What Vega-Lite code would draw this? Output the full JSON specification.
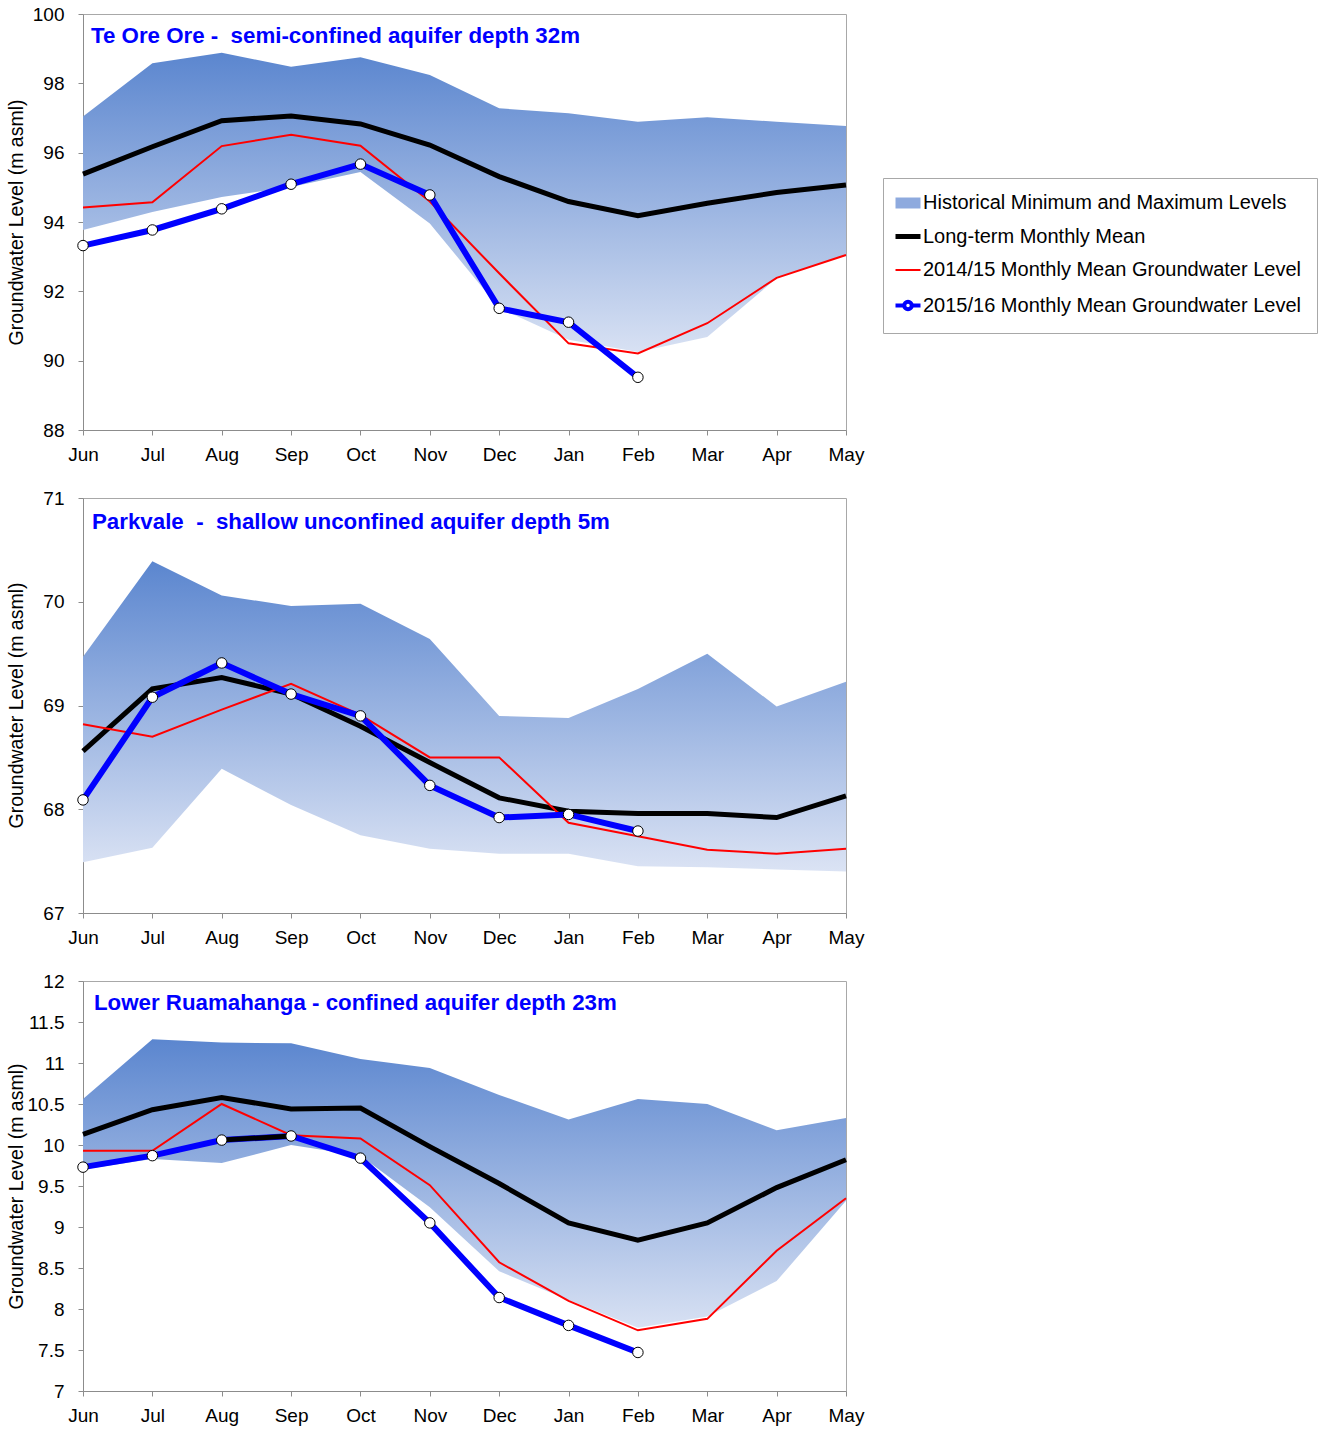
{
  "$schema": "https://vega.github.io/schema/vega-lite/v6.json",
  "background": "white",
  "padding": {"left": 5, "top": 4, "right": 0, "bottom": 0},
  "autosize": {"type": "pad"},
  "spacing": 68,
  "bounds": "flush",
  "config": {
    "font": "Liberation Sans",
    "view": {"stroke": "#a8a8a8", "strokeWidth": 1},
    "axis": {"grid": false, "domainColor": "#8c8c8c", "tickColor": "#8c8c8c", "labelFontSize": 19, "labelColor": "#000000", "titleFontSize": 19.5, "titleFontWeight": "normal", "titleColor": "#000000", "tickSize": 5, "labelFont": "Liberation Sans", "titleFont": "Liberation Sans"},
    "axisX": {"labelAngle": 0, "labelPadding": 10, "title": null},
    "axisY": {"labelPadding": 14}
  },
  "datasets": {
    "band": [
      {"site": "Te Ore Ore", "month": "Jun", "max": 97.04, "min": 93.77},
      {"site": "Te Ore Ore", "month": "Jul", "max": 98.58, "min": 94.29},
      {"site": "Te Ore Ore", "month": "Aug", "max": 98.88, "min": 94.72},
      {"site": "Te Ore Ore", "month": "Sep", "max": 98.48, "min": 95.01},
      {"site": "Te Ore Ore", "month": "Oct", "max": 98.75, "min": 95.44},
      {"site": "Te Ore Ore", "month": "Nov", "max": 98.24, "min": 93.96},
      {"site": "Te Ore Ore", "month": "Dec", "max": 97.28, "min": 91.52},
      {"site": "Te Ore Ore", "month": "Jan", "max": 97.14, "min": 90.6},
      {"site": "Te Ore Ore", "month": "Feb", "max": 96.89, "min": 90.25},
      {"site": "Te Ore Ore", "month": "Mar", "max": 97.02, "min": 90.68},
      {"site": "Te Ore Ore", "month": "Apr", "max": 96.89, "min": 92.38},
      {"site": "Te Ore Ore", "month": "May", "max": 96.77, "min": 93.05},
      {"site": "Parkvale", "month": "Jun", "max": 69.47, "min": 67.49},
      {"site": "Parkvale", "month": "Jul", "max": 70.39, "min": 67.63},
      {"site": "Parkvale", "month": "Aug", "max": 70.06, "min": 68.39},
      {"site": "Parkvale", "month": "Sep", "max": 69.96, "min": 68.04},
      {"site": "Parkvale", "month": "Oct", "max": 69.98, "min": 67.75},
      {"site": "Parkvale", "month": "Nov", "max": 69.64, "min": 67.62},
      {"site": "Parkvale", "month": "Dec", "max": 68.9, "min": 67.57},
      {"site": "Parkvale", "month": "Jan", "max": 68.88, "min": 67.57},
      {"site": "Parkvale", "month": "Feb", "max": 69.16, "min": 67.45},
      {"site": "Parkvale", "month": "Mar", "max": 69.5, "min": 67.44},
      {"site": "Parkvale", "month": "Apr", "max": 68.99, "min": 67.42},
      {"site": "Parkvale", "month": "May", "max": 69.23, "min": 67.4},
      {"site": "Lower Ruamahanga", "month": "Jun", "max": 10.56, "min": 9.7},
      {"site": "Lower Ruamahanga", "month": "Jul", "max": 11.29, "min": 9.83},
      {"site": "Lower Ruamahanga", "month": "Aug", "max": 11.25, "min": 9.78},
      {"site": "Lower Ruamahanga", "month": "Sep", "max": 11.24, "min": 10.0},
      {"site": "Lower Ruamahanga", "month": "Oct", "max": 11.05, "min": 9.87},
      {"site": "Lower Ruamahanga", "month": "Nov", "max": 10.94, "min": 9.24},
      {"site": "Lower Ruamahanga", "month": "Dec", "max": 10.61, "min": 8.46},
      {"site": "Lower Ruamahanga", "month": "Jan", "max": 10.31, "min": 8.11},
      {"site": "Lower Ruamahanga", "month": "Feb", "max": 10.56, "min": 7.77},
      {"site": "Lower Ruamahanga", "month": "Mar", "max": 10.5, "min": 7.91},
      {"site": "Lower Ruamahanga", "month": "Apr", "max": 10.18, "min": 8.34},
      {"site": "Lower Ruamahanga", "month": "May", "max": 10.33, "min": 9.32}
    ],
    "lines": [
      {"site": "Te Ore Ore", "series": "Long-term Monthly Mean", "month": "Jun", "value": 95.38},
      {"site": "Te Ore Ore", "series": "Long-term Monthly Mean", "month": "Jul", "value": 96.17},
      {"site": "Te Ore Ore", "series": "Long-term Monthly Mean", "month": "Aug", "value": 96.92},
      {"site": "Te Ore Ore", "series": "Long-term Monthly Mean", "month": "Sep", "value": 97.06},
      {"site": "Te Ore Ore", "series": "Long-term Monthly Mean", "month": "Oct", "value": 96.83},
      {"site": "Te Ore Ore", "series": "Long-term Monthly Mean", "month": "Nov", "value": 96.22},
      {"site": "Te Ore Ore", "series": "Long-term Monthly Mean", "month": "Dec", "value": 95.31},
      {"site": "Te Ore Ore", "series": "Long-term Monthly Mean", "month": "Jan", "value": 94.59},
      {"site": "Te Ore Ore", "series": "Long-term Monthly Mean", "month": "Feb", "value": 94.18},
      {"site": "Te Ore Ore", "series": "Long-term Monthly Mean", "month": "Mar", "value": 94.54},
      {"site": "Te Ore Ore", "series": "Long-term Monthly Mean", "month": "Apr", "value": 94.85},
      {"site": "Te Ore Ore", "series": "Long-term Monthly Mean", "month": "May", "value": 95.07},
      {"site": "Te Ore Ore", "series": "2014/15 Monthly Mean Groundwater Level", "month": "Jun", "value": 94.42},
      {"site": "Te Ore Ore", "series": "2014/15 Monthly Mean Groundwater Level", "month": "Jul", "value": 94.57},
      {"site": "Te Ore Ore", "series": "2014/15 Monthly Mean Groundwater Level", "month": "Aug", "value": 96.19},
      {"site": "Te Ore Ore", "series": "2014/15 Monthly Mean Groundwater Level", "month": "Sep", "value": 96.52},
      {"site": "Te Ore Ore", "series": "2014/15 Monthly Mean Groundwater Level", "month": "Oct", "value": 96.2},
      {"site": "Te Ore Ore", "series": "2014/15 Monthly Mean Groundwater Level", "month": "Nov", "value": 94.59},
      {"site": "Te Ore Ore", "series": "2014/15 Monthly Mean Groundwater Level", "month": "Dec", "value": 92.52},
      {"site": "Te Ore Ore", "series": "2014/15 Monthly Mean Groundwater Level", "month": "Jan", "value": 90.5},
      {"site": "Te Ore Ore", "series": "2014/15 Monthly Mean Groundwater Level", "month": "Feb", "value": 90.21},
      {"site": "Te Ore Ore", "series": "2014/15 Monthly Mean Groundwater Level", "month": "Mar", "value": 91.08},
      {"site": "Te Ore Ore", "series": "2014/15 Monthly Mean Groundwater Level", "month": "Apr", "value": 92.39},
      {"site": "Te Ore Ore", "series": "2014/15 Monthly Mean Groundwater Level", "month": "May", "value": 93.05},
      {"site": "Te Ore Ore", "series": "2015/16 Monthly Mean Groundwater Level", "month": "Jun", "value": 93.32},
      {"site": "Te Ore Ore", "series": "2015/16 Monthly Mean Groundwater Level", "month": "Jul", "value": 93.77},
      {"site": "Te Ore Ore", "series": "2015/16 Monthly Mean Groundwater Level", "month": "Aug", "value": 94.38},
      {"site": "Te Ore Ore", "series": "2015/16 Monthly Mean Groundwater Level", "month": "Sep", "value": 95.09},
      {"site": "Te Ore Ore", "series": "2015/16 Monthly Mean Groundwater Level", "month": "Oct", "value": 95.67},
      {"site": "Te Ore Ore", "series": "2015/16 Monthly Mean Groundwater Level", "month": "Nov", "value": 94.78},
      {"site": "Te Ore Ore", "series": "2015/16 Monthly Mean Groundwater Level", "month": "Dec", "value": 91.51},
      {"site": "Te Ore Ore", "series": "2015/16 Monthly Mean Groundwater Level", "month": "Jan", "value": 91.11},
      {"site": "Te Ore Ore", "series": "2015/16 Monthly Mean Groundwater Level", "month": "Feb", "value": 89.52},
      {"site": "Parkvale", "series": "Long-term Monthly Mean", "month": "Jun", "value": 68.56},
      {"site": "Parkvale", "series": "Long-term Monthly Mean", "month": "Jul", "value": 69.16},
      {"site": "Parkvale", "series": "Long-term Monthly Mean", "month": "Aug", "value": 69.27},
      {"site": "Parkvale", "series": "Long-term Monthly Mean", "month": "Sep", "value": 69.11},
      {"site": "Parkvale", "series": "Long-term Monthly Mean", "month": "Oct", "value": 68.8},
      {"site": "Parkvale", "series": "Long-term Monthly Mean", "month": "Nov", "value": 68.45},
      {"site": "Parkvale", "series": "Long-term Monthly Mean", "month": "Dec", "value": 68.11},
      {"site": "Parkvale", "series": "Long-term Monthly Mean", "month": "Jan", "value": 67.98},
      {"site": "Parkvale", "series": "Long-term Monthly Mean", "month": "Feb", "value": 67.96},
      {"site": "Parkvale", "series": "Long-term Monthly Mean", "month": "Mar", "value": 67.96},
      {"site": "Parkvale", "series": "Long-term Monthly Mean", "month": "Apr", "value": 67.92},
      {"site": "Parkvale", "series": "Long-term Monthly Mean", "month": "May", "value": 68.13},
      {"site": "Parkvale", "series": "2014/15 Monthly Mean Groundwater Level", "month": "Jun", "value": 68.82},
      {"site": "Parkvale", "series": "2014/15 Monthly Mean Groundwater Level", "month": "Jul", "value": 68.7},
      {"site": "Parkvale", "series": "2014/15 Monthly Mean Groundwater Level", "month": "Aug", "value": 68.96},
      {"site": "Parkvale", "series": "2014/15 Monthly Mean Groundwater Level", "month": "Sep", "value": 69.21},
      {"site": "Parkvale", "series": "2014/15 Monthly Mean Groundwater Level", "month": "Oct", "value": 68.91},
      {"site": "Parkvale", "series": "2014/15 Monthly Mean Groundwater Level", "month": "Nov", "value": 68.5},
      {"site": "Parkvale", "series": "2014/15 Monthly Mean Groundwater Level", "month": "Dec", "value": 68.5},
      {"site": "Parkvale", "series": "2014/15 Monthly Mean Groundwater Level", "month": "Jan", "value": 67.87},
      {"site": "Parkvale", "series": "2014/15 Monthly Mean Groundwater Level", "month": "Feb", "value": 67.74},
      {"site": "Parkvale", "series": "2014/15 Monthly Mean Groundwater Level", "month": "Mar", "value": 67.61},
      {"site": "Parkvale", "series": "2014/15 Monthly Mean Groundwater Level", "month": "Apr", "value": 67.57},
      {"site": "Parkvale", "series": "2014/15 Monthly Mean Groundwater Level", "month": "May", "value": 67.62},
      {"site": "Parkvale", "series": "2015/16 Monthly Mean Groundwater Level", "month": "Jun", "value": 68.09},
      {"site": "Parkvale", "series": "2015/16 Monthly Mean Groundwater Level", "month": "Jul", "value": 69.08},
      {"site": "Parkvale", "series": "2015/16 Monthly Mean Groundwater Level", "month": "Aug", "value": 69.41},
      {"site": "Parkvale", "series": "2015/16 Monthly Mean Groundwater Level", "month": "Sep", "value": 69.11},
      {"site": "Parkvale", "series": "2015/16 Monthly Mean Groundwater Level", "month": "Oct", "value": 68.9},
      {"site": "Parkvale", "series": "2015/16 Monthly Mean Groundwater Level", "month": "Nov", "value": 68.23},
      {"site": "Parkvale", "series": "2015/16 Monthly Mean Groundwater Level", "month": "Dec", "value": 67.92},
      {"site": "Parkvale", "series": "2015/16 Monthly Mean Groundwater Level", "month": "Jan", "value": 67.95},
      {"site": "Parkvale", "series": "2015/16 Monthly Mean Groundwater Level", "month": "Feb", "value": 67.79},
      {"site": "Lower Ruamahanga", "series": "Long-term Monthly Mean", "month": "Jun", "value": 10.13},
      {"site": "Lower Ruamahanga", "series": "Long-term Monthly Mean", "month": "Jul", "value": 10.43},
      {"site": "Lower Ruamahanga", "series": "Long-term Monthly Mean", "month": "Aug", "value": 10.58},
      {"site": "Lower Ruamahanga", "series": "Long-term Monthly Mean", "month": "Sep", "value": 10.44},
      {"site": "Lower Ruamahanga", "series": "Long-term Monthly Mean", "month": "Oct", "value": 10.45},
      {"site": "Lower Ruamahanga", "series": "Long-term Monthly Mean", "month": "Nov", "value": 9.98},
      {"site": "Lower Ruamahanga", "series": "Long-term Monthly Mean", "month": "Dec", "value": 9.53},
      {"site": "Lower Ruamahanga", "series": "Long-term Monthly Mean", "month": "Jan", "value": 9.05},
      {"site": "Lower Ruamahanga", "series": "Long-term Monthly Mean", "month": "Feb", "value": 8.84},
      {"site": "Lower Ruamahanga", "series": "Long-term Monthly Mean", "month": "Mar", "value": 9.05},
      {"site": "Lower Ruamahanga", "series": "Long-term Monthly Mean", "month": "Apr", "value": 9.48},
      {"site": "Lower Ruamahanga", "series": "Long-term Monthly Mean", "month": "May", "value": 9.82},
      {"site": "Lower Ruamahanga", "series": "2014/15 Monthly Mean Groundwater Level", "month": "Jun", "value": 9.93},
      {"site": "Lower Ruamahanga", "series": "2014/15 Monthly Mean Groundwater Level", "month": "Jul", "value": 9.93},
      {"site": "Lower Ruamahanga", "series": "2014/15 Monthly Mean Groundwater Level", "month": "Aug", "value": 10.5},
      {"site": "Lower Ruamahanga", "series": "2014/15 Monthly Mean Groundwater Level", "month": "Sep", "value": 10.12},
      {"site": "Lower Ruamahanga", "series": "2014/15 Monthly Mean Groundwater Level", "month": "Oct", "value": 10.08},
      {"site": "Lower Ruamahanga", "series": "2014/15 Monthly Mean Groundwater Level", "month": "Nov", "value": 9.51},
      {"site": "Lower Ruamahanga", "series": "2014/15 Monthly Mean Groundwater Level", "month": "Dec", "value": 8.57},
      {"site": "Lower Ruamahanga", "series": "2014/15 Monthly Mean Groundwater Level", "month": "Jan", "value": 8.1},
      {"site": "Lower Ruamahanga", "series": "2014/15 Monthly Mean Groundwater Level", "month": "Feb", "value": 7.74},
      {"site": "Lower Ruamahanga", "series": "2014/15 Monthly Mean Groundwater Level", "month": "Mar", "value": 7.88},
      {"site": "Lower Ruamahanga", "series": "2014/15 Monthly Mean Groundwater Level", "month": "Apr", "value": 8.71},
      {"site": "Lower Ruamahanga", "series": "2014/15 Monthly Mean Groundwater Level", "month": "May", "value": 9.35},
      {"site": "Lower Ruamahanga", "series": "2015/16 Monthly Mean Groundwater Level", "month": "Jun", "value": 9.73},
      {"site": "Lower Ruamahanga", "series": "2015/16 Monthly Mean Groundwater Level", "month": "Jul", "value": 9.87},
      {"site": "Lower Ruamahanga", "series": "2015/16 Monthly Mean Groundwater Level", "month": "Aug", "value": 10.06},
      {"site": "Lower Ruamahanga", "series": "2015/16 Monthly Mean Groundwater Level", "month": "Sep", "value": 10.11},
      {"site": "Lower Ruamahanga", "series": "2015/16 Monthly Mean Groundwater Level", "month": "Oct", "value": 9.84},
      {"site": "Lower Ruamahanga", "series": "2015/16 Monthly Mean Groundwater Level", "month": "Nov", "value": 9.05},
      {"site": "Lower Ruamahanga", "series": "2015/16 Monthly Mean Groundwater Level", "month": "Dec", "value": 8.14},
      {"site": "Lower Ruamahanga", "series": "2015/16 Monthly Mean Groundwater Level", "month": "Jan", "value": 7.8},
      {"site": "Lower Ruamahanga", "series": "2015/16 Monthly Mean Groundwater Level", "month": "Feb", "value": 7.47}
    ]
  },
  "vconcat": [
    {
      "width": 763, "height": 416,
      "title": {"text": "Te Ore Ore -\u00a0 semi-confined aquifer depth 32m", "anchor": "start", "frame": "group", "offset": -60, "dx": 8, "color": "#0000ff", "fontSize": 22.3, "fontWeight": "bold", "font": "Liberation Sans", "baseline": "alphabetic"},
      "layer": [
        {
          "data": {"name": "band"},
          "transform": [{"filter": "datum.site === 'Te Ore Ore'"}],
          "mark": {"type": "area", "fill": {"gradient": "linear", "x1": 0, "y1": 0, "x2": 0, "y2": 1, "stops": [{"offset": 0, "color": "#5b86cf"}, {"offset": 1, "color": "#d8e1f3"}]}},
          "encoding": {
            "x": {"field": "month", "type": "ordinal", "sort": ["Jun","Jul","Aug","Sep","Oct","Nov","Dec","Jan","Feb","Mar","Apr","May"], "scale": {"type": "point", "padding": 0, "domain": ["Jun","Jul","Aug","Sep","Oct","Nov","Dec","Jan","Feb","Mar","Apr","May"]}, "axis": {"title": null}},
            "y": {"field": "max", "type": "quantitative", "scale": {"domain": [88, 100], "nice": false, "zero": false}, "axis": {"title": "Groundwater Level (m asml)", "values": [88,90,92,94,96,98,100], "format": "d", "titleX": -57, "titleY": 208}},
            "y2": {"field": "min"}
          }
        },
        {
          "data": {"name": "lines"},
          "transform": [{"filter": "datum.site === 'Te Ore Ore' && datum.series === 'Long-term Monthly Mean'"}],
          "mark": {"type": "line", "strokeWidth": 5},
          "encoding": {
            "x": {"field": "month", "type": "ordinal", "sort": ["Jun","Jul","Aug","Sep","Oct","Nov","Dec","Jan","Feb","Mar","Apr","May"]},
            "y": {"field": "value", "type": "quantitative"},
            "color": {"field": "series", "type": "nominal", "scale": {"domain": ["Historical Minimum and Maximum Levels", "Long-term Monthly Mean", "2014/15 Monthly Mean Groundwater Level", "2015/16 Monthly Mean Groundwater Level"], "range": ["#8eaade", "#000000", "#ff0000", "#0000ff"]},
              "legend": {"orient": "none", "legendX": 800, "legendY": 164, "title": null, "strokeColor": "#a8a8a8", "fillColor": "white", "padding": 15, "labelFontSize": 20, "labelColor": "#000000", "labelFont": "Liberation Sans", "labelOffset": 5, "rowPadding": 13.5, "symbolSize": 625, "labelLimit": 600,
                "values": ["Historical Minimum and Maximum Levels", "Long-term Monthly Mean", "2014/15 Monthly Mean Groundwater Level", "2015/16 Monthly Mean Groundwater Level"],
                "encode": {"symbols": {"update": {
                  "shape": {"signal": "datum.value === 'Historical Minimum and Maximum Levels' ? 'M-1,-0.44H1V0.44H-1Z' : (datum.value === '2015/16 Monthly Mean Groundwater Level' ? 'M-1,0H-0.3M0.3,0H1M0.3,0A0.3,0.3 0 1 1 -0.3,0A0.3,0.3 0 1 1 0.3,0Z' : 'M-1,0H1')"},
                  "fill": {"signal": "datum.value === 'Historical Minimum and Maximum Levels' ? '#8eaade' : (datum.value === '2015/16 Monthly Mean Groundwater Level' ? '#ffffff' : 'transparent')"},
                  "stroke": {"signal": "datum.value === 'Historical Minimum and Maximum Levels' ? 'transparent' : (datum.value === 'Long-term Monthly Mean' ? '#000000' : (datum.value === '2014/15 Monthly Mean Groundwater Level' ? '#ff0000' : '#0000ff'))"},
                  "strokeWidth": {"signal": "datum.value === 'Long-term Monthly Mean' ? 5 : (datum.value === '2014/15 Monthly Mean Groundwater Level' ? 2 : (datum.value === '2015/16 Monthly Mean Groundwater Level' ? 4 : 0))"},
                  "opacity": {"value": 1}
                }}}
              }
            }
          }
        },
        {
          "data": {"name": "lines"},
          "transform": [{"filter": "datum.site === 'Te Ore Ore' && datum.series === '2014/15 Monthly Mean Groundwater Level'"}],
          "mark": {"type": "line", "strokeWidth": 2},
          "encoding": {
            "x": {"field": "month", "type": "ordinal", "sort": ["Jun","Jul","Aug","Sep","Oct","Nov","Dec","Jan","Feb","Mar","Apr","May"]},
            "y": {"field": "value", "type": "quantitative"},
            "color": {"field": "series", "type": "nominal"}
          }
        },
        {
          "data": {"name": "lines"},
          "transform": [{"filter": "datum.site === 'Te Ore Ore' && datum.series === '2015/16 Monthly Mean Groundwater Level'"}],
          "mark": {"type": "line", "strokeWidth": 6},
          "encoding": {
            "x": {"field": "month", "type": "ordinal", "sort": ["Jun","Jul","Aug","Sep","Oct","Nov","Dec","Jan","Feb","Mar","Apr","May"]},
            "y": {"field": "value", "type": "quantitative"},
            "color": {"field": "series", "type": "nominal"}
          }
        },
        {
          "data": {"name": "lines"},
          "transform": [{"filter": "datum.site === 'Te Ore Ore' && datum.series === '2015/16 Monthly Mean Groundwater Level'"}],
          "mark": {"type": "point", "shape": "circle", "filled": true, "fill": "#ffffff", "stroke": "#000000", "strokeWidth": 1, "size": 110, "opacity": 1},
          "encoding": {
            "x": {"field": "month", "type": "ordinal", "sort": ["Jun","Jul","Aug","Sep","Oct","Nov","Dec","Jan","Feb","Mar","Apr","May"]},
            "y": {"field": "value", "type": "quantitative"}
          }
        }
      ]
    },
    {
      "width": 763, "height": 415,
      "title": {"text": "Parkvale\u00a0 -\u00a0 shallow unconfined aquifer depth 5m", "anchor": "start", "frame": "group", "offset": -62, "dx": 9, "color": "#0000ff", "fontSize": 22.3, "fontWeight": "bold", "font": "Liberation Sans", "baseline": "alphabetic"},
      "layer": [
        {
          "data": {"name": "band"},
          "transform": [{"filter": "datum.site === 'Parkvale'"}],
          "mark": {"type": "area", "fill": {"gradient": "linear", "x1": 0, "y1": 0, "x2": 0, "y2": 1, "stops": [{"offset": 0, "color": "#5b86cf"}, {"offset": 1, "color": "#dbe3f4"}]}},
          "encoding": {
            "x": {"field": "month", "type": "ordinal", "sort": ["Jun","Jul","Aug","Sep","Oct","Nov","Dec","Jan","Feb","Mar","Apr","May"], "scale": {"type": "point", "padding": 0, "domain": ["Jun","Jul","Aug","Sep","Oct","Nov","Dec","Jan","Feb","Mar","Apr","May"]}, "axis": {"title": null}},
            "y": {"field": "max", "type": "quantitative", "scale": {"domain": [67, 71], "nice": false, "zero": false}, "axis": {"title": "Groundwater Level (m asml)", "values": [67,68,69,70,71], "format": "d", "titleX": -57, "titleY": 207}},
            "y2": {"field": "min"}
          }
        },
        {
          "data": {"name": "lines"},
          "transform": [{"filter": "datum.site === 'Parkvale' && datum.series === 'Long-term Monthly Mean'"}],
          "mark": {"type": "line", "strokeWidth": 5},
          "encoding": {
            "x": {"field": "month", "type": "ordinal", "sort": ["Jun","Jul","Aug","Sep","Oct","Nov","Dec","Jan","Feb","Mar","Apr","May"]},
            "y": {"field": "value", "type": "quantitative"},
            "color": {"field": "series", "type": "nominal"}
          }
        },
        {
          "data": {"name": "lines"},
          "transform": [{"filter": "datum.site === 'Parkvale' && datum.series === '2014/15 Monthly Mean Groundwater Level'"}],
          "mark": {"type": "line", "strokeWidth": 2},
          "encoding": {
            "x": {"field": "month", "type": "ordinal", "sort": ["Jun","Jul","Aug","Sep","Oct","Nov","Dec","Jan","Feb","Mar","Apr","May"]},
            "y": {"field": "value", "type": "quantitative"},
            "color": {"field": "series", "type": "nominal"}
          }
        },
        {
          "data": {"name": "lines"},
          "transform": [{"filter": "datum.site === 'Parkvale' && datum.series === '2015/16 Monthly Mean Groundwater Level'"}],
          "mark": {"type": "line", "strokeWidth": 6},
          "encoding": {
            "x": {"field": "month", "type": "ordinal", "sort": ["Jun","Jul","Aug","Sep","Oct","Nov","Dec","Jan","Feb","Mar","Apr","May"]},
            "y": {"field": "value", "type": "quantitative"},
            "color": {"field": "series", "type": "nominal"}
          }
        },
        {
          "data": {"name": "lines"},
          "transform": [{"filter": "datum.site === 'Parkvale' && datum.series === '2015/16 Monthly Mean Groundwater Level'"}],
          "mark": {"type": "point", "shape": "circle", "filled": true, "fill": "#ffffff", "stroke": "#000000", "strokeWidth": 1, "size": 110, "opacity": 1},
          "encoding": {
            "x": {"field": "month", "type": "ordinal", "sort": ["Jun","Jul","Aug","Sep","Oct","Nov","Dec","Jan","Feb","Mar","Apr","May"]},
            "y": {"field": "value", "type": "quantitative"}
          }
        }
      ]
    },
    {
      "width": 763, "height": 410,
      "title": {"text": "Lower Ruamahanga - confined aquifer depth 23m", "anchor": "start", "frame": "group", "offset": -60, "dx": 11, "color": "#0000ff", "fontSize": 22.3, "fontWeight": "bold", "font": "Liberation Sans", "baseline": "alphabetic"},
      "layer": [
        {
          "data": {"name": "band"},
          "transform": [{"filter": "datum.site === 'Lower Ruamahanga'"}],
          "mark": {"type": "area", "fill": {"gradient": "linear", "x1": 0, "y1": 0, "x2": 0, "y2": 1, "stops": [{"offset": 0, "color": "#5b86cf"}, {"offset": 1, "color": "#d8e1f3"}]}},
          "encoding": {
            "x": {"field": "month", "type": "ordinal", "sort": ["Jun","Jul","Aug","Sep","Oct","Nov","Dec","Jan","Feb","Mar","Apr","May"], "scale": {"type": "point", "padding": 0, "domain": ["Jun","Jul","Aug","Sep","Oct","Nov","Dec","Jan","Feb","Mar","Apr","May"]}, "axis": {"title": null}},
            "y": {"field": "max", "type": "quantitative", "scale": {"domain": [7, 12], "nice": false, "zero": false}, "axis": {"title": "Groundwater Level (m asml)", "values": [7,7.5,8,8.5,9,9.5,10,10.5,11,11.5,12], "format": "~g", "titleX": -57, "titleY": 205}},
            "y2": {"field": "min"}
          }
        },
        {
          "data": {"name": "lines"},
          "transform": [{"filter": "datum.site === 'Lower Ruamahanga' && datum.series === 'Long-term Monthly Mean'"}],
          "mark": {"type": "line", "strokeWidth": 5},
          "encoding": {
            "x": {"field": "month", "type": "ordinal", "sort": ["Jun","Jul","Aug","Sep","Oct","Nov","Dec","Jan","Feb","Mar","Apr","May"]},
            "y": {"field": "value", "type": "quantitative"},
            "color": {"field": "series", "type": "nominal"}
          }
        },
        {
          "data": {"name": "lines"},
          "transform": [{"filter": "datum.site === 'Lower Ruamahanga' && datum.series === '2014/15 Monthly Mean Groundwater Level'"}],
          "mark": {"type": "line", "strokeWidth": 2},
          "encoding": {
            "x": {"field": "month", "type": "ordinal", "sort": ["Jun","Jul","Aug","Sep","Oct","Nov","Dec","Jan","Feb","Mar","Apr","May"]},
            "y": {"field": "value", "type": "quantitative"},
            "color": {"field": "series", "type": "nominal"}
          }
        },
        {
          "data": {"name": "lines"},
          "transform": [{"filter": "datum.site === 'Lower Ruamahanga' && datum.series === '2015/16 Monthly Mean Groundwater Level'"}],
          "mark": {"type": "line", "strokeWidth": 6},
          "encoding": {
            "x": {"field": "month", "type": "ordinal", "sort": ["Jun","Jul","Aug","Sep","Oct","Nov","Dec","Jan","Feb","Mar","Apr","May"]},
            "y": {"field": "value", "type": "quantitative"},
            "color": {"field": "series", "type": "nominal"}
          }
        },
        {
          "data": {"name": "lines"},
          "transform": [{"filter": "datum.site === 'Lower Ruamahanga' && datum.series === '2015/16 Monthly Mean Groundwater Level' && (datum.month === 'Aug' || datum.month === 'Sep')"}],
          "mark": {"type": "line", "strokeWidth": 5, "color": "#000000"},
          "encoding": {
            "x": {"field": "month", "type": "ordinal", "sort": ["Jun","Jul","Aug","Sep","Oct","Nov","Dec","Jan","Feb","Mar","Apr","May"]},
            "y": {"field": "value", "type": "quantitative"}
          }
        },
        {
          "data": {"name": "lines"},
          "transform": [{"filter": "datum.site === 'Lower Ruamahanga' && datum.series === '2015/16 Monthly Mean Groundwater Level'"}],
          "mark": {"type": "point", "shape": "circle", "filled": true, "fill": "#ffffff", "stroke": "#000000", "strokeWidth": 1, "size": 110, "opacity": 1},
          "encoding": {
            "x": {"field": "month", "type": "ordinal", "sort": ["Jun","Jul","Aug","Sep","Oct","Nov","Dec","Jan","Feb","Mar","Apr","May"]},
            "y": {"field": "value", "type": "quantitative"}
          }
        }
      ]
    }
  ]
}
